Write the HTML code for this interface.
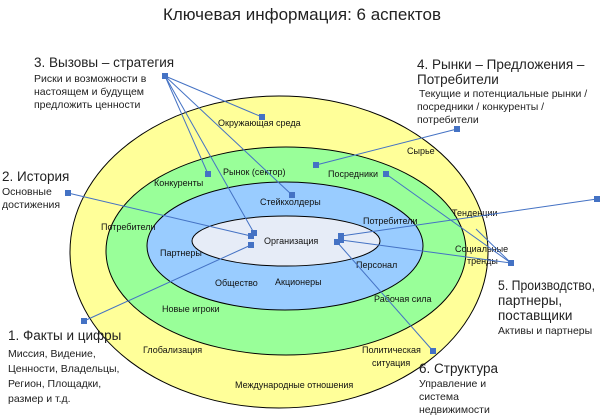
<!DOCTYPE html>
<html><head><meta charset="utf-8"><style>
body{margin:0;background:#fff}
svg{display:block;font-family:"Liberation Sans","Noto Sans CJK SC",sans-serif}
.s{font-size:9px;fill:#111}
.h{font-size:13.5px;fill:#222}
.t{font-size:10.5px;fill:#222}
</style></head><body>
<svg width="603" height="415" viewBox="0 0 603 415">
<text x="302" y="20" text-anchor="middle" style="font-size:17px;fill:#222">Ключевая информация: 6 аспектов</text>
<ellipse cx="279" cy="252" rx="209" ry="156" fill="#ffff99" stroke="#000" stroke-width="1"/>
<ellipse cx="286" cy="251" rx="180" ry="104" fill="#99ff99" stroke="#000" stroke-width="1"/>
<ellipse cx="285" cy="246" rx="138" ry="64" fill="#99ccff" stroke="#000" stroke-width="1"/>
<ellipse cx="286" cy="241" rx="94" ry="25" fill="#e6ecf7" stroke="#000" stroke-width="1"/>
<g class="s">
<text x="218" y="126">Окружающая среда</text>
<text x="223" y="175">Рынок (сектор)</text>
<text x="154" y="186">Конкуренты</text>
<text x="260" y="205">Стейкхолдеры</text>
<text x="101" y="230">Потребители</text>
<text x="264" y="244">Организация</text>
<text x="160" y="256">Партнеры</text>
<text x="215" y="286">Общество</text>
<text x="275" y="285">Акционеры</text>
<text x="356" y="268">Персонал</text>
<text x="162" y="312">Новые игроки</text>
<text x="374" y="302">Рабочая сила</text>
<text x="143" y="353">Глобализация</text>
<text x="235" y="388">Международные отношения</text>
<text x="362" y="353">Политическая</text>
<text x="372" y="366">ситуация</text>
<text x="407" y="154">Сырье</text>
<text x="328" y="177">Посредники</text>
<text x="452" y="216">Тенденции</text>
<text x="363" y="224">Потребители</text>
<text x="455" y="252">Социальные</text>
<text x="467" y="264">тренды</text>
</g>
<g stroke="#4472c4" stroke-width="1" fill="none">
<line x1="165" y1="76" x2="262" y2="117"/>
<line x1="165" y1="76" x2="208" y2="174"/>
<line x1="165" y1="76" x2="292" y2="195"/>
<line x1="165" y1="76" x2="254" y2="233"/>
<line x1="68" y1="193" x2="251" y2="236"/>
<line x1="84" y1="321" x2="251" y2="245"/>
<line x1="457" y1="129" x2="316" y2="165"/>
<line x1="511" y1="263" x2="386" y2="174"/>
<line x1="511" y1="263" x2="476" y2="229"/>
<line x1="597" y1="199" x2="341" y2="236"/>
<line x1="511" y1="263" x2="341" y2="240"/>
<line x1="337" y1="242" x2="433" y2="351"/>
</g>
<g fill="#4472c4">
<rect x="162" y="73" width="6" height="6"/>
<rect x="259" y="114" width="6" height="6"/>
<rect x="205" y="171" width="6" height="6"/>
<rect x="289" y="192" width="6" height="6"/>
<rect x="251" y="230" width="6" height="6"/>
<rect x="65" y="190" width="6" height="6"/>
<rect x="248" y="233" width="6" height="6"/>
<rect x="81" y="318" width="6" height="6"/>
<rect x="248" y="242" width="6" height="6"/>
<rect x="454" y="126" width="6" height="6"/>
<rect x="313" y="162" width="6" height="6"/>
<rect x="383" y="171" width="6" height="6"/>
<rect x="508" y="260" width="6" height="6"/>
<rect x="594" y="196" width="6" height="6"/>
<rect x="338" y="233" width="6" height="6"/>
<rect x="338" y="237" width="6" height="6"/>
<rect x="334" y="239" width="6" height="6"/>
<rect x="430" y="348" width="6" height="6"/>
</g>
<text class="h" x="34" y="67">3. Вызовы – стратегия</text>
<text class="t" x="34" y="82">Риски и возможности в</text>
<text class="t" x="34" y="95">настоящем и будущем</text>
<text class="t" x="34" y="108">предложить ценности</text>
<text class="h" x="2" y="181">2.  История</text>
<text class="t" x="2" y="195">Основные</text>
<text class="t" x="2" y="208">достижения</text>
<text class="h" x="417" y="69">4. Рынки – Предложения –</text>
<text class="h" x="417" y="84">Потребители</text>
<text class="t" x="419" y="97">Текущие и потенциальные рынки /</text>
<text class="t" x="417" y="110">посредники / конкуренты /</text>
<text class="t" x="417" y="123">потребители</text>
<text class="h" x="8" y="340">1. Факты и цифры</text>
<text class="t" x="8" y="357">Миссия, Видение,</text>
<text class="t" x="8" y="372">Ценности, Владельцы,</text>
<text class="t" x="8" y="387">Регион, Площадки,</text>
<text class="t" x="8" y="402">размер и т.д.</text>
<text class="h" x="498" y="290" textLength="97" lengthAdjust="spacingAndGlyphs">5. Производство,</text>
<text class="h" x="498" y="305">партнеры,</text>
<text class="h" x="498" y="320">поставщики</text>
<text class="t" x="498" y="334">Активы и партнеры</text>
<text class="h" x="419" y="373">6. Структура</text>
<text class="t" x="419" y="387">Управление и</text>
<text class="t" x="419" y="400">система</text>
<text class="t" x="419" y="413">недвижимости</text>
</svg>
</body></html>
